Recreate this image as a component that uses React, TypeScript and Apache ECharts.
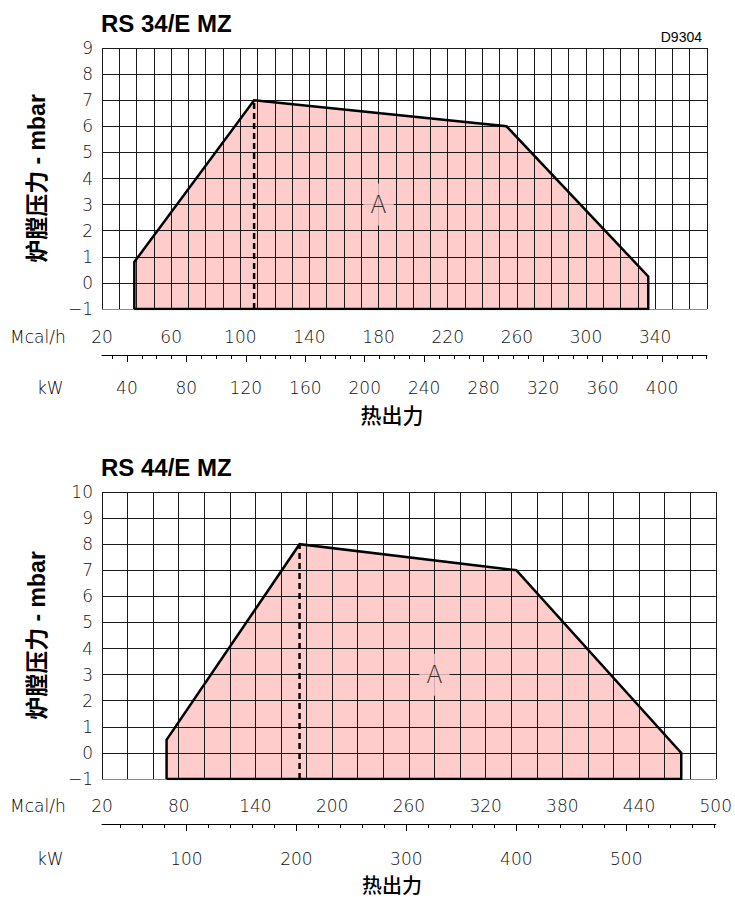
import React, { useEffect, useRef } from 'react';
import * as echarts from 'echarts';

// conversion between the two x scales
const KW_TO_MCAL = 0.86;

// ---------- Chart 1: RS 34/E MZ ----------
const c1Title = 'RS 34/E MZ';
const c1McalRange = [20, 370];
const c1McalGridStep = 10;
const c1YRange = [-1, 9];
const c1McalLabels = [20, 60, 100, 140, 180, 220, 260, 300, 340];
const c1KwLabels = [40, 80, 120, 160, 200, 240, 280, 320, 360, 400];
const c1KwMinorTicks = [30, 40, 50, 60, 70, 80, 90, 100, 110, 120, 130, 140, 150, 160, 170, 180, 190, 200, 210, 220, 230, 240, 250, 260, 270, 280, 290, 300, 310, 320, 330, 340, 350, 360, 370, 380, 390, 400, 410, 420, 430];
const c1AreaMcal = [38.7, 38.7, 108, 254, 336, 336];
const c1AreaMbar = [-1, 0.8, 7, 6, 0.25, -1];
const c1DesignMcal = 108;
const c1DesignMbar = [-1, 7];
const c1LabelA = [180, 3];

// ---------- Chart 2: RS 44/E MZ ----------
const c2Title = 'RS 44/E MZ';
const c2McalRange = [20, 500];
const c2McalGridStep = 20;
const c2YRange = [-1, 10];
const c2McalLabels = [20, 80, 140, 200, 260, 320, 380, 440, 500];
const c2KwLabels = [100, 200, 300, 400, 500];
const c2KwMinorTicks = [40, 60, 80, 100, 120, 140, 160, 180, 200, 220, 240, 260, 280, 300, 320, 340, 360, 380, 400, 420, 440, 460, 480, 500, 520, 540, 560, 580];
const c2AreaMcal = [70.5, 70.5, 174.5, 344, 473, 473];
const c2AreaMbar = [-1, 0.5, 8, 7, 0, -1];
const c2DesignMcal = 174.5;
const c2DesignMbar = [-1, 8];
const c2LabelA = [280, 3];

const yAxisName = '炉膛压力 - mbar';
const xAxisName = '热出力';
const unitMcal = 'Mcal/h';
const unitKw = 'kW';
const drawingCode = 'D9304';

const TICK_FONT = "'DejaVu Sans', sans-serif";
const CJK_FONT = "'Liberation Sans', 'Noto Sans CJK SC', sans-serif";
const FILL = '#ffcccc';
const GRIDLINE = '#1a1a1a';

type Cfg = {
  mcalRange: number[]; step: number; yRange: number[]; mcalLabels: number[];
  kwLabels: number[]; kwMinor: number[]; areaX: number[]; areaY: number[];
  designX: number; designY: number[]; labelA: number[];
  grid: { left: number; top: number; width: number; height: number };
  kwOffset: number; mcalMargin: number; kwMargin: number;
};

function steps(a: number, b: number, s: number) {
  const out: number[] = [];
  for (let v = a; v <= b + 1e-9; v += s) out.push(v);
  return out;
}

function build(cfgs: Cfg[]) {
  const grid: any[] = [];
  const xAxis: any[] = [];
  const yAxis: any[] = [];
  const series: any[] = [];
  cfgs.forEach((c, i) => {
    grid.push({ ...c.grid, containLabel: false });
    const base = xAxis.length;
    xAxis.push({
      type: 'value', gridIndex: i, min: c.mcalRange[0], max: c.mcalRange[1],
      axisLine: { show: false },
      axisTick: { show: true, customValues: c.mcalLabels, length: 6, lineStyle: { color: '#000', width: 1 } },
      axisLabel: { show: true, customValues: c.mcalLabels, margin: c.mcalMargin, fontSize: 17, fontFamily: TICK_FONT, fontWeight: 200, color: '#111' },
      splitLine: { show: false },
    });
    const kwMin = c.mcalRange[0] / KW_TO_MCAL;
    const kwMax = c.mcalRange[1] / KW_TO_MCAL;
    xAxis.push({
      type: 'value', gridIndex: i, min: kwMin, max: kwMax, position: 'bottom', offset: c.kwOffset,
      axisLine: { show: true, lineStyle: { color: '#000', width: 1 } },
      axisTick: { show: true, customValues: c.kwMinor, length: 4, lineStyle: { color: '#000', width: 1 } },
      axisLabel: { show: false },
      splitLine: { show: false },
    });
    xAxis.push({
      type: 'value', gridIndex: i, min: kwMin, max: kwMax, position: 'bottom', offset: c.kwOffset,
      axisLine: { show: false },
      axisTick: { show: true, customValues: c.kwLabels, length: 7, lineStyle: { color: '#000', width: 1 } },
      axisLabel: { show: true, customValues: c.kwLabels, margin: c.kwMargin, fontSize: 17, fontFamily: TICK_FONT, fontWeight: 200, color: '#111' },
      splitLine: { show: false },
    });
    yAxis.push({
      type: 'value', gridIndex: i, min: c.yRange[0], max: c.yRange[1], interval: 1,
      name: yAxisName, nameLocation: 'middle', nameGap: 54, nameRotate: 90,
      nameTextStyle: { fontSize: 23, fontWeight: 'bold', fontFamily: CJK_FONT, color: '#000' },
      axisLine: { show: false },
      axisTick: { show: false },
      axisLabel: {
        margin: 9, fontSize: 17, fontFamily: TICK_FONT, fontWeight: 200, color: '#111',
        formatter: (v: number) => (v < 0 ? '\u2212' + Math.abs(v) : String(v)),
      },
      splitLine: { show: false },
    });
    const pts = c.areaX.map((x, k) => [x, c.areaY[k]]);
    // fill
    series.push({
      type: 'line', xAxisIndex: base, yAxisIndex: i, data: pts, symbol: 'none', z: 1,
      lineStyle: { width: 0, opacity: 0 }, areaStyle: { color: FILL, opacity: 1, origin: 'start' },
      silent: true,
    });
    // grid lines on top of the fill
    const gl: any[] = [];
    steps(c.mcalRange[0], c.mcalRange[1], c.step).forEach((x) =>
      gl.push({ coords: [[x, c.yRange[0]], [x, c.yRange[1]]] }));
    steps(c.yRange[0], c.yRange[1], 1).forEach((y) =>
      gl.push({ coords: [[c.mcalRange[0], y], [c.mcalRange[1], y]] }));
    series.push({
      type: 'lines', coordinateSystem: 'cartesian2d', xAxisIndex: base, yAxisIndex: i, z: 3,
      data: gl, lineStyle: { color: GRIDLINE, width: 1, opacity: 1 }, silent: true,
    });
    // outline
    series.push({
      type: 'line', xAxisIndex: base, yAxisIndex: i, data: [...pts, pts[0]], symbol: 'none', z: 5,
      lineStyle: { color: '#000', width: 2.5, join: 'miter' }, silent: true,
    });
    // dashed design line
    series.push({
      type: 'line', xAxisIndex: base, yAxisIndex: i,
      data: c.designY.map((y) => [c.designX, y]), symbol: 'none', z: 5,
      lineStyle: { color: '#000', width: 2.5, type: [6, 4] }, silent: true,
    });
    // area label
    series.push({
      type: 'scatter', xAxisIndex: base, yAxisIndex: i, data: [c.labelA], symbolSize: 1, z: 8,
      itemStyle: { color: 'rgba(0,0,0,0)' },
      label: {
        show: true, position: 'inside', formatter: 'A', fontSize: 24, fontFamily: TICK_FONT, fontWeight: 200,
        color: '#000', backgroundColor: FILL, padding: [9, 7],
      },
      silent: true,
    });
  });
  return { grid, xAxis, yAxis, series };
}

export default function App() {
  const ref = useRef<HTMLDivElement>(null);
  useEffect(() => {
    if (!ref.current) return;
    const chart = echarts.init(ref.current, null, { renderer: 'svg' });
    const cfgs: Cfg[] = [
      {
        mcalRange: c1McalRange, step: c1McalGridStep, yRange: c1YRange, mcalLabels: c1McalLabels,
        kwLabels: c1KwLabels, kwMinor: c1KwMinorTicks, areaX: c1AreaMcal, areaY: c1AreaMbar,
        designX: c1DesignMcal, designY: c1DesignMbar, labelA: c1LabelA,
        grid: { left: 102, top: 48, width: 605, height: 261 }, kwOffset: 46, mcalMargin: 19, kwMargin: 24,
      },
      {
        mcalRange: c2McalRange, step: c2McalGridStep, yRange: c2YRange, mcalLabels: c2McalLabels,
        kwLabels: c2KwLabels, kwMinor: c2KwMinorTicks, areaX: c2AreaMcal, areaY: c2AreaMbar,
        designX: c2DesignMcal, designY: c2DesignMbar, labelA: c2LabelA,
        grid: { left: 102, top: 492, width: 614, height: 287 }, kwOffset: 45, mcalMargin: 18, kwMargin: 26,
      },
    ];
    const { grid, xAxis, yAxis, series } = build(cfgs);
    const txt = (text: string, x: number, y: number, o: any = {}) => ({
      type: 'text', x, y, z: 20,
      style: { text, fill: '#000', fontSize: 17, fontFamily: TICK_FONT, fontWeight: 200, align: 'left', verticalAlign: 'middle', ...o },
    });
    const graphic = [
      txt(c1Title, 101, 23, { fontSize: 24, fontWeight: 'bold', fontFamily: "'Liberation Sans', sans-serif" }),
      txt(c2Title, 101, 467, { fontSize: 24, fontWeight: 'bold', fontFamily: "'Liberation Sans', sans-serif" }),
      txt(drawingCode, 702, 37, { fontSize: 14, fontWeight: 'normal', fontFamily: "'Liberation Sans', sans-serif", align: 'right' }),
      txt(unitMcal, 10, 337),
      txt(unitKw, 37, 388),
      txt(unitMcal, 10, 806),
      txt(unitKw, 37, 859),
      txt(xAxisName, 392, 414, { fontSize: 21, fontWeight: 500, fontFamily: "'Noto Sans CJK SC', sans-serif", align: 'center' }),
      txt(xAxisName, 392, 884, { fontSize: 20, fontWeight: 500, fontFamily: "'Noto Sans CJK SC', sans-serif", align: 'center' }),
    ];
    chart.setOption({ animation: false, backgroundColor: '#fff', grid, xAxis, yAxis, series, graphic });
    return () => chart.dispose();
  }, []);
  return <div ref={ref} style={{ position: 'absolute', left: 0, top: 0, width: 735, height: 897 }} />;
}
